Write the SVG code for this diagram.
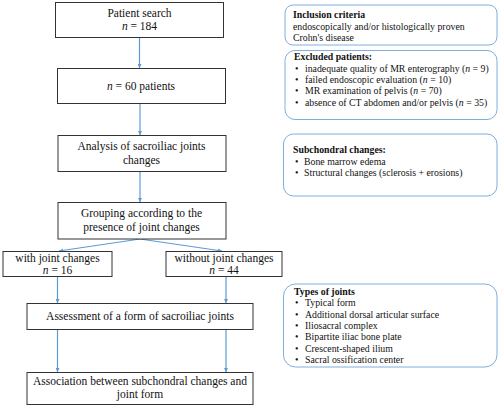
<svg xmlns="http://www.w3.org/2000/svg" width="500" height="406" viewBox="0 0 500 406">
<defs>
<marker id="ah" viewBox="0 0 10 10" refX="10" refY="5" markerWidth="4" markerHeight="4" markerUnits="userSpaceOnUse" orient="auto">
<path d="M0,0 L10,5 L0,10 z" fill="#5B9BD5"/>
</marker>
</defs>
<style>
.box{fill:#fff;stroke:#333;stroke-width:1}
.rbox{fill:#fff;stroke:#7EAEDF;stroke-width:1}
.t{font-family:"Liberation Serif","Times New Roman",serif;font-size:11.5px;fill:#111;text-anchor:middle}
.s{font-family:"Liberation Serif","Times New Roman",serif;font-size:9.8px;fill:#111}
.b{font-weight:bold}
.c{stroke:#5B9BD5;stroke-width:1.2;fill:none;marker-end:url(#ah)}
</style>
<rect width="500" height="406" fill="#fff"/>
<g id="connectors">
<line class="c" x1="139.5" y1="37" x2="139.5" y2="68"/>
<line class="c" x1="140" y1="103" x2="140" y2="135"/>
<line class="c" x1="140" y1="171" x2="140" y2="202"/>
<line class="c" x1="140" y1="239" x2="59" y2="251"/>
<line class="c" x1="140" y1="239" x2="222" y2="251"/>
<line class="c" x1="57.5" y1="276" x2="57.5" y2="303"/>
<line class="c" x1="226" y1="276" x2="226" y2="303"/>
<line class="c" x1="57.5" y1="329" x2="57.5" y2="372"/>
<line class="c" x1="226" y1="329" x2="226" y2="372"/>
</g>
<g id="n1"><rect class="box" x="55.5" y="2.5" width="168" height="35"/>
<text class="t" x="139.5" y="17">Patient search</text>
<text class="t" x="139.5" y="30"><tspan font-style="italic">n</tspan> = 184</text></g>
<g id="n2"><rect class="box" x="57.5" y="68.5" width="168" height="35"/>
<text class="t" x="141" y="90"><tspan font-style="italic">n</tspan> = 60 patients</text></g>
<g id="n3"><rect class="box" x="58" y="135.5" width="168" height="36"/>
<text class="t" x="141.5" y="150">Analysis of sacroiliac joints</text>
<text class="t" x="141.5" y="163.5">changes</text></g>
<g id="n4"><rect class="box" x="58" y="202.5" width="168" height="36.5"/>
<text class="t" x="141.5" y="217">Grouping according to the</text>
<text class="t" x="141.5" y="231">presence of joint changes</text></g>
<g id="n5"><rect class="box" x="3" y="251.5" width="109" height="25"/>
<text class="t" x="57.5" y="261.5">with joint changes</text>
<text class="t" x="57.5" y="274"><tspan font-style="italic">n</tspan> = 16</text></g>
<g id="n6"><rect class="box" x="166" y="251.5" width="116" height="25"/>
<text class="t" x="224" y="261.5">without joint changes</text>
<text class="t" x="224" y="274"><tspan font-style="italic">n</tspan> = 44</text></g>
<g id="n7"><rect class="box" x="27" y="303.5" width="226" height="26"/>
<text class="t" x="140" y="320">Assessment of a form of sacroiliac joints</text></g>
<g id="n8"><rect class="box" x="27" y="372.5" width="226" height="32"/>
<text class="t" x="140" y="385">Association between subchondral changes and</text>
<text class="t" x="140" y="398">joint form</text></g>
<g id="inclusion"><rect class="rbox" x="285" y="5" width="212" height="40" rx="8"/>
<text class="s b" x="293" y="18">Inclusion criteria</text>
<text class="s" x="293" y="29.5">endoscopically and/or histologically proven</text>
<text class="s" x="293" y="41">Crohn's disease</text></g>
<g id="excluded"><rect class="rbox" x="285" y="50.5" width="212" height="69" rx="10"/>
<text class="s b" x="294" y="59.5">Excluded patients:</text>
<text class="s" x="295" y="72">•</text><text class="s" x="305" y="72">inadequate quality of MR enterography (<tspan font-style="italic">n</tspan> = 9)</text>
<text class="s" x="295" y="83">•</text><text class="s" x="305" y="83">failed endoscopic evaluation (<tspan font-style="italic">n</tspan> = 10)</text>
<text class="s" x="295" y="94">•</text><text class="s" x="305" y="94">MR examination of pelvis (<tspan font-style="italic">n</tspan> = 70)</text>
<text class="s" x="295" y="105.5">•</text><text class="s" x="305" y="105.5">absence of CT abdomen and/or pelvis (<tspan font-style="italic">n</tspan> = 35)</text></g>
<g id="subchondral"><rect class="rbox" x="283.5" y="134" width="213.5" height="62" rx="10"/>
<text class="s b" x="293" y="153">Subchondral changes:</text>
<text class="s" x="295" y="164.5">•</text><text class="s" x="304" y="164.5">Bone marrow edema</text>
<text class="s" x="295" y="176">•</text><text class="s" x="304" y="176">Structural changes (sclerosis + erosions)</text></g>
<g id="types"><rect class="rbox" x="283.5" y="284" width="213.5" height="83" rx="12"/>
<text class="s b" x="294" y="295">Types of joints</text>
<text class="s" x="295" y="306.3">•</text><text class="s" x="305" y="306.3">Typical form</text>
<text class="s" x="295" y="317.6">•</text><text class="s" x="305" y="317.6">Additional dorsal articular surface</text>
<text class="s" x="295" y="328.9">•</text><text class="s" x="305" y="328.9">Iliosacral complex</text>
<text class="s" x="295" y="340.2">•</text><text class="s" x="305" y="340.2">Bipartite iliac bone plate</text>
<text class="s" x="295" y="351.5">•</text><text class="s" x="305" y="351.5">Crescent-shaped ilium</text>
<text class="s" x="295" y="362.8">•</text><text class="s" x="305" y="362.8">Sacral ossification center</text></g>
</svg>
